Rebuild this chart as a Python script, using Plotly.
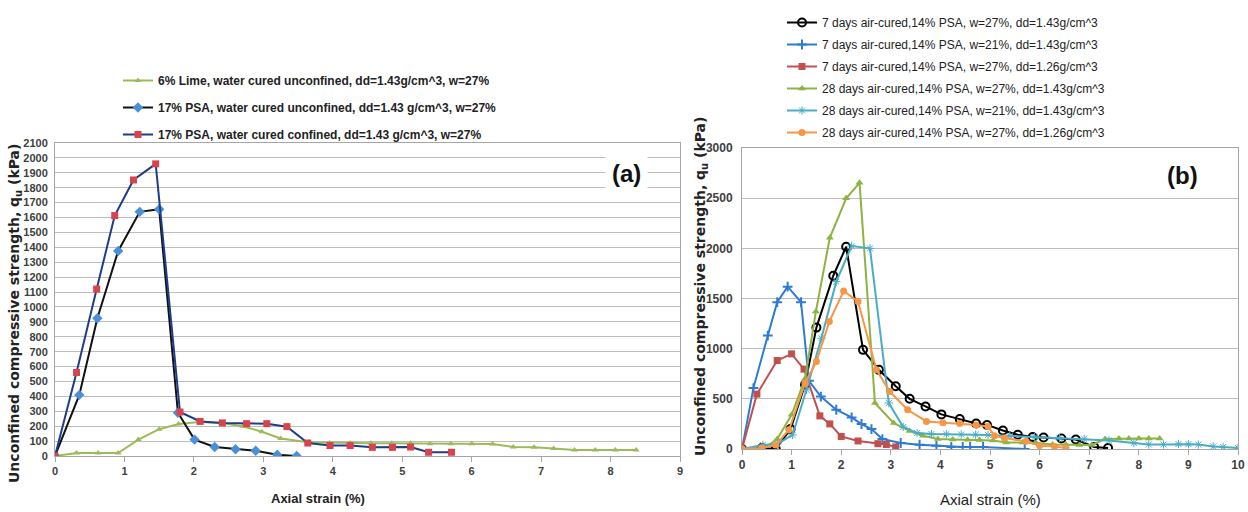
import plotly.graph_objects as go

W, H = 1248, 512

# ---------------- (a) data ----------------
lime_x = [0, 0.31, 0.62, 0.91, 1.2, 1.5, 1.78, 2.08, 2.4, 2.7, 2.98, 3.25, 3.65, 3.95, 4.25,
          4.55, 4.85, 5.12, 5.4, 5.7, 6.0, 6.3, 6.6, 6.9, 7.18, 7.48, 7.78, 8.07, 8.37]
lime_y = [0, 20, 20, 20, 110, 180, 215, 228, 222, 200, 163, 118, 92, 88, 88,
          85, 85, 85, 82, 82, 82, 80, 60, 58, 50, 40, 40, 40, 40]

psa_unc_x = [0, 0.35, 0.61, 0.91, 1.22, 1.5, 1.77, 2.01, 2.3, 2.6, 2.89, 3.2, 3.48]
psa_unc_y = [0, 410, 924, 1376, 1638, 1656, 290, 110, 60, 45, 35, 8, 0]

psa_con_x = [0, 0.31, 0.6, 0.86, 1.13, 1.45, 1.8, 2.09, 2.41, 2.76, 3.05, 3.34, 3.64, 3.96,
             4.25, 4.57, 4.86, 5.12, 5.38, 5.71]
psa_con_y = [0, 560, 1120, 1613, 1852, 1960, 295, 232, 222, 217, 217, 197, 87, 70,
             70, 58, 58, 60, 25, 25]

# ---------------- (b) data ----------------
d7_w27_x = [0, 0.4, 0.68, 0.98, 1.27, 1.5, 1.84, 2.1, 2.44, 2.76, 3.1, 3.38, 3.7, 4.02, 4.39,
            4.72, 4.94, 5.26, 5.56, 5.86, 6.08, 6.44, 6.73, 7.1, 7.38]
d7_w27_y = [0, 10, 0, 200, 640, 1210, 1727, 2016, 988, 789, 625, 500, 424, 345, 298,
            255, 240, 185, 142, 119, 115, 105, 95, 20, 10]

d7_w21_x = [0, 0.23, 0.52, 0.71, 0.92, 1.19, 1.35, 1.59, 1.9, 2.21, 2.41, 2.61, 2.83, 3.2,
            3.58, 3.92, 4.22, 4.45, 4.6, 4.86, 5.7]
d7_w21_y = [0, 607, 1130, 1463, 1618, 1463, 680, 523, 391, 315, 249, 199, 99, 60,
            43, 33, 20, 20, 20, 20, 0]

d7_dd126_x = [0, 0.3, 0.71, 1.0, 1.25, 1.57, 1.77, 2.0, 2.34, 2.74, 2.91, 3.1]
d7_dd126_y = [0, 547, 882, 948, 796, 330, 250, 125, 80, 53, 45, 20]

d28_w27_x = [0, 0.42, 0.71, 1.0, 1.27, 1.49, 1.77, 2.1, 2.37, 2.68, 3.06, 3.38, 3.65, 3.95,
             4.25, 4.55, 4.79, 5.06, 5.33, 5.66, 5.93, 6.26, 6.53, 6.8, 7.05, 7.32, 7.6,
             7.8, 8.0, 8.2, 8.42]
d28_w27_y = [0, 0, 99, 341, 700, 1370, 2105, 2498, 2653, 458, 258, 180, 132, 99,
             95, 92, 90, 85, 66, 66, 60, 45, 45, 40, 40, 100, 105, 105, 105, 105, 105]

d28_w21_x = [0, 0.42, 0.71, 1.02, 1.3, 1.6, 1.9, 2.21, 2.58, 2.96, 3.25, 3.53, 3.82, 4.12,
             4.42, 4.71, 4.96, 5.4, 5.9, 6.4, 6.9, 7.4, 7.9, 8.2, 8.5, 8.8, 9.0, 9.2,
             9.5, 9.7, 10.0]
d28_w21_y = [0, 40, 50, 140, 590, 1104, 1668, 2023, 2000, 458, 219, 159, 149, 149,
             145, 142, 140, 130, 120, 110, 100, 85, 60, 45, 45, 50, 48, 45,
             25, 20, 10]

d28_dd126_x = [0, 0.4, 0.68, 0.95, 1.27, 1.5, 1.76, 2.05, 2.34, 2.71, 2.98, 3.34, 3.72,
               4.05, 4.39, 4.72, 4.96, 5.09, 5.29, 5.73, 6.0, 6.3, 6.53]
d28_dd126_y = [0, 10, 40, 192, 656, 872, 1270, 1575, 1469, 789, 573, 391, 275,
               262, 255, 240, 225, 132, 109, 76, 33, 25, 10]

legend_a = ["6% Lime, water cured unconfined, dd=1.43g/cm^3, w=27%",
            "17% PSA, water cured unconfined, dd=1.43 g/cm^3, w=27%",
            "17% PSA, water cured confined, dd=1.43 g/cm^3, w=27%"]
legend_b = ["7 days air-cured,14% PSA, w=27%, dd=1.43g/cm^3",
            "7 days air-cured,14% PSA, w=21%, dd=1.43g/cm^3",
            "7 days air-cured,14% PSA, w=27%, dd=1.26g/cm^3",
            "28 days air-cured,14% PSA, w=27%, dd=1.43g/cm^3",
            "28 days air-cured,14% PSA, w=21%, dd=1.43g/cm^3",
            "28 days air-cured,14% PSA, w=27%, dd=1.26g/cm^3"]

NARROW = "Liberation Sans Narrow, Arial Narrow, Liberation Sans, sans-serif"
WIDE = "DejaVu Sans, Verdana, sans-serif"


def px(x):
    return x / W


def py(y):
    return 1 - y / H


fig = go.Figure()

# (a) traces
fig.add_trace(go.Scatter(x=lime_x, y=lime_y, name=legend_a[0], mode="lines+markers",
                         line=dict(color="#9BBB59", width=2),
                         marker=dict(symbol="triangle-up", size=6, color="#9BBB59"),
                         xaxis="x", yaxis="y", legend="legend", legendgroup="a1"))
fig.add_trace(go.Scatter(x=psa_unc_x, y=psa_unc_y, name=legend_a[1], mode="lines+markers",
                         line=dict(color="#111111", width=2),
                         marker=dict(symbol="diamond", size=8, color="#4A90D9"),
                         xaxis="x", yaxis="y", legend="legend", legendgroup="a2"))
fig.add_trace(go.Scatter(x=psa_con_x, y=psa_con_y, name=legend_a[2], mode="lines+markers",
                         line=dict(color="#1F3C88", width=2),
                         marker=dict(symbol="square", size=7, color="#D9434B"),
                         xaxis="x", yaxis="y", legend="legend", legendgroup="a3"))

# (b) traces
specs_b = [
    (d7_w27_x, d7_w27_y, "#000000", dict(symbol="circle-open", size=8, color="#000000", line=dict(width=2))),
    (d7_w21_x, d7_w21_y, "#2E7BD6", dict(symbol="cross-thin-open", size=7, color="#2E7BD6", line=dict(width=2, color="#2E7BD6"))),
    (d7_dd126_x, d7_dd126_y, "#C0504D", dict(symbol="square", size=7, color="#C0504D")),
    (d28_w27_x, d28_w27_y, "#8DB443", dict(symbol="triangle-up", size=7, color="#8DB443")),
    (d28_w21_x, d28_w21_y, "#4BACC6", dict(symbol="asterisk-open", size=7, color="#4BACC6", line=dict(width=1, color="#4BACC6"))),
    (d28_dd126_x, d28_dd126_y, "#F79646", dict(symbol="circle", size=7, color="#F79646")),
]
for i, (xs, ys, col, mk) in enumerate(specs_b):
    fig.add_trace(go.Scatter(x=xs, y=ys, name=legend_b[i], mode="lines+markers",
                             line=dict(color=col, width=2), marker=mk,
                             xaxis="x2", yaxis="y2", legend="legend2",
                             legendgroup="b%d" % i))

grid = "#BDBDBD"
frame = "#A6A6A6"
tickfont_a = dict(family=NARROW, size=11, color="#404040", weight="bold")
tickfont_b = dict(family=NARROW, size=12, color="#404040", weight="bold")

fig.update_layout(
    width=W, height=H,
    margin=dict(l=0, r=0, t=0, b=0),
    paper_bgcolor="white", plot_bgcolor="white",
    showlegend=True,
    xaxis=dict(domain=[px(55), px(680)], range=[0, 9], dtick=1, tick0=0,
               showgrid=False, zeroline=False, showline=True, linecolor=frame, linewidth=1,
               mirror=True, ticks="outside", ticklen=5, tickcolor=frame,
               tickfont=tickfont_a, automargin=False, anchor="y"),
    yaxis=dict(domain=[py(456), py(143)], range=[0, 2100], dtick=100, tick0=0,
               showgrid=True, gridcolor=grid, gridwidth=1.2, zeroline=False,
               showline=True, linecolor=frame, linewidth=1, mirror=True,
               ticks="", ticklabelstandoff=4,
               tickfont=tickfont_a, automargin=False, anchor="x"),
    xaxis2=dict(domain=[px(742), px(1238)], range=[0, 10], dtick=1, tick0=0,
                showgrid=False, zeroline=False, showline=True, linecolor=frame, linewidth=1,
                mirror=True, ticks="outside", ticklen=5, tickcolor=frame,
                tickfont=tickfont_b, automargin=False, anchor="y2"),
    yaxis2=dict(domain=[py(449), py(148)], range=[0, 3000], dtick=500, tick0=0,
                showgrid=True, gridcolor=grid, gridwidth=1.2, zeroline=False,
                showline=True, linecolor=frame, linewidth=1, mirror=True,
                ticks="", ticklabelstandoff=6,
                tickfont=tickfont_b, automargin=False, anchor="x2"),
    legend=dict(x=px(118), y=py(66), xanchor="left", yanchor="top",
                bgcolor="rgba(0,0,0,0)", tracegroupgap=8, itemwidth=30,
                font=dict(family=NARROW, size=12, color="#222222", weight="bold")),
    legend2=dict(x=px(782), y=py(8), xanchor="left", yanchor="top",
                 bgcolor="rgba(0,0,0,0)", tracegroupgap=3, itemwidth=30,
                 font=dict(family=NARROW, size=12, color="#222222")),
)

ann = [
    dict(text="Unconfined compressive strength, q<sub>u</sub> (kPa)", x=px(15), y=py(314),
         textangle=-90, font=dict(family=WIDE, size=14, color="#222222", weight="bold")),
    dict(text="Unconfined compressive strength, q<sub>u</sub> (kPa)", x=px(701), y=py(287),
         textangle=-90, font=dict(family=WIDE, size=14, color="#222222", weight="bold")),
    dict(text="Axial strain (%)", x=px(318), y=py(498),
         font=dict(family=NARROW, size=13, color="#222222", weight="bold")),
    dict(text="Axial strain (%)", x=px(990), y=py(499),
         font=dict(family=NARROW, size=15, color="#222222")),
    dict(text="(a)", x=px(626), y=py(173), bgcolor="white", borderpad=6,
         font=dict(family=NARROW, size=24, color="#111111", weight="bold")),
    dict(text="(b)", x=px(1182), y=py(175), bgcolor="white", borderpad=8,
         font=dict(family=NARROW, size=24, color="#111111", weight="bold")),
]
for a in ann:
    a.update(xref="paper", yref="paper", showarrow=False, xanchor="center", yanchor="middle")
fig.update_layout(annotations=ann)

fig.write_html("out.html", config={"displayModeBar": False},
               post_script="document.body.style.margin='0';document.body.style.overflow='hidden';")
